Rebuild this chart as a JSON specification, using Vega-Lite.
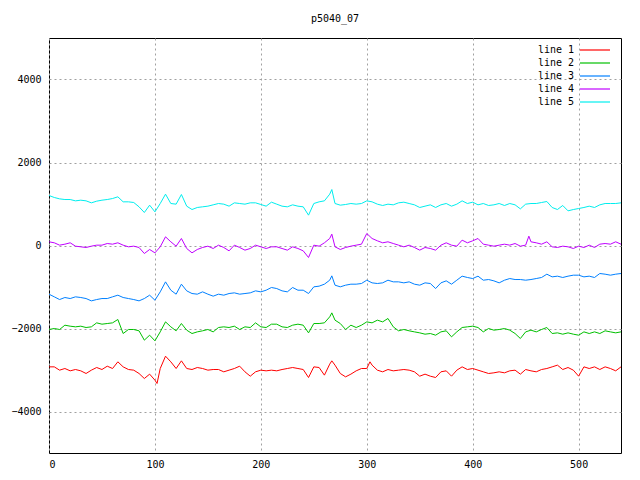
{
  "$schema": "https://vega.github.io/schema/vega-lite/v6.json",
  "width": 572,
  "height": 415,
  "autosize": {"type": "none"},
  "padding": {"left": 49, "top": 38, "right": 19, "bottom": 27},
  "background": "white",
  "config": {
    "view": {"stroke": "black", "strokeWidth": 1},
    "font": "DejaVu Sans Mono",
    "axis": {"labelFont": "DejaVu Sans Mono", "labelFontSize": 10, "labelColor": "black", "ticks": false, "domain": false, "grid": true, "gridDash": [2, 3], "gridColor": "#a0a0a0", "gridOpacity": 1, "title": null}
  },
  "title": {"text": "p5040_07", "fontSize": 10, "fontWeight": "normal", "font": "DejaVu Sans Mono", "offset": 14, "color": "black"},
  "data": {"values": [
    {"x":0,"a":-2924,"b":-2024,"c":-1173,"d":89,"e":1205},
    {"x":5,"a":-2924,"b":-2000,"c":-1237,"d":65,"e":1157},
    {"x":10,"a":-3004,"b":-2024,"c":-1302,"d":8,"e":1124},
    {"x":15,"a":-2964,"b":-1920,"c":-1253,"d":32,"e":1108},
    {"x":20,"a":-3020,"b":-1944,"c":-1278,"d":65,"e":1108},
    {"x":25,"a":-2988,"b":-1960,"c":-1237,"d":-16,"e":1076},
    {"x":30,"a":-3020,"b":-1944,"c":-1253,"d":-32,"e":1092},
    {"x":35,"a":-3084,"b":-1976,"c":-1278,"d":-48,"e":1076},
    {"x":40,"a":-3004,"b":-1960,"c":-1334,"d":-16,"e":1028},
    {"x":45,"a":-2940,"b":-1864,"c":-1302,"d":8,"e":1068},
    {"x":50,"a":-2988,"b":-1896,"c":-1278,"d":8,"e":1092},
    {"x":55,"a":-2908,"b":-1880,"c":-1278,"d":48,"e":1108},
    {"x":60,"a":-2964,"b":-1864,"c":-1237,"d":32,"e":1132},
    {"x":65,"a":-2803,"b":-1783,"c":-1197,"d":65,"e":1173},
    {"x":70,"a":-2924,"b":-2121,"c":-1253,"d":8,"e":1052},
    {"x":75,"a":-2988,"b":-2024,"c":-1278,"d":-32,"e":1052},
    {"x":80,"a":-3004,"b":-2024,"c":-1302,"d":-16,"e":1036},
    {"x":85,"a":-3084,"b":-2056,"c":-1334,"d":-48,"e":932},
    {"x":90,"a":-3205,"b":-2281,"c":-1278,"d":-193,"e":795},
    {"x":95,"a":-3100,"b":-2161,"c":-1197,"d":-96,"e":972},
    {"x":100,"a":-3245,"b":-2297,"c":-1318,"d":-177,"e":811},
    {"x":102,"a":-3325},
    {"x":105,"a":-2964,"b":-2081,"c":-1117,"d":-32,"e":1012},
    {"x":110,"a":-2667,"b":-1840,"c":-876,"d":209,"e":1237},
    {"x":115,"a":-2803,"b":-1960,"c":-1077,"d":89,"e":1012},
    {"x":120,"a":-2964,"b":-2056,"c":-1173,"d":-16,"e":996},
    {"x":125,"a":-2779,"b":-1880,"c":-932,"d":169,"e":1229},
    {"x":130,"a":-2964,"b":-2040,"c":-1093,"d":-72,"e":948},
    {"x":135,"a":-2988,"b":-2121,"c":-1157,"d":-177,"e":867},
    {"x":140,"a":-2940,"b":-2081,"c":-1173,"d":-96,"e":916},
    {"x":145,"a":-2964,"b":-2056,"c":-1117,"d":-48,"e":932},
    {"x":150,"a":-3004,"b":-2024,"c":-1173,"d":-16,"e":948},
    {"x":155,"a":-2988,"b":-2081,"c":-1221,"d":-72,"e":980},
    {"x":160,"a":-2988,"b":-1976,"c":-1173,"d":8,"e":1012},
    {"x":165,"a":-3044,"b":-1960,"c":-1197,"d":-48,"e":996},
    {"x":170,"a":-3004,"b":-1976,"c":-1157,"d":-129,"e":948},
    {"x":175,"a":-2964,"b":-1944,"c":-1141,"d":8,"e":1028},
    {"x":180,"a":-2908,"b":-2024,"c":-1173,"d":-48,"e":1012},
    {"x":185,"a":-3044,"b":-1960,"c":-1157,"d":-112,"e":996},
    {"x":190,"a":-3149,"b":-1976,"c":-1141,"d":-72,"e":1028},
    {"x":195,"a":-3044,"b":-1864,"c":-1093,"d":8,"e":1028},
    {"x":200,"a":-3004,"b":-1960,"c":-1117,"d":-32,"e":988},
    {"x":205,"a":-3020,"b":-1976,"c":-1077,"d":-72,"e":948},
    {"x":210,"a":-3004,"b":-1896,"c":-1012,"d":-32,"e":1044},
    {"x":215,"a":-3020,"b":-1896,"c":-1037,"d":-32,"e":996},
    {"x":220,"a":-2988,"b":-1960,"c":-1093,"d":-72,"e":948},
    {"x":225,"a":-2964,"b":-1976,"c":-1117,"d":-112,"e":932},
    {"x":230,"a":-2940,"b":-1920,"c":-1012,"d":-32,"e":980},
    {"x":235,"a":-2964,"b":-1896,"c":-1077,"d":-72,"e":948},
    {"x":240,"a":-2988,"b":-1920,"c":-1077,"d":-129,"e":932},
    {"x":245,"a":-3181,"b":-2105,"c":-1157,"d":-289,"e":731},
    {"x":250,"a":-2924,"b":-1880,"c":-996,"d":8,"e":1012},
    {"x":255,"a":-2940,"b":-1880,"c":-980,"d":-16,"e":1052},
    {"x":260,"a":-3124,"b":-1864,"c":-932,"d":65,"e":1076},
    {"x":265,"a":-2859,"b":-1719,"c":-836,"d":169,"e":1237},
    {"x":267,"a":-2779,"b":-1623,"c":-731,"d":273,"e":1349},
    {"x":270,"a":-2883,"b":-1799,"c":-956,"d":-32,"e":1012},
    {"x":275,"a":-3084,"b":-1880,"c":-996,"d":-96,"e":972},
    {"x":280,"a":-3165,"b":-2024,"c":-956,"d":-48,"e":988},
    {"x":285,"a":-3100,"b":-1920,"c":-932,"d":-16,"e":1012},
    {"x":290,"a":-3020,"b":-1976,"c":-932,"d":8,"e":996},
    {"x":295,"a":-2964,"b":-1920,"c":-916,"d":32,"e":1012},
    {"x":300,"a":-2964,"b":-1840,"c":-836,"d":289,"e":1076},
    {"x":303,"a":-2803},
    {"x":305,"a":-2883,"b":-1864,"c":-900,"d":169,"e":1052},
    {"x":310,"a":-3004,"b":-1799,"c":-916,"d":113,"e":996},
    {"x":315,"a":-3044,"b":-1840,"c":-900,"d":65,"e":964},
    {"x":320,"a":-2988,"b":-1759,"c":-836,"d":89,"e":996},
    {"x":325,"a":-3020,"b":-1960,"c":-876,"d":48,"e":980},
    {"x":330,"a":-3004,"b":-2056,"c":-876,"d":8,"e":1028},
    {"x":335,"a":-2988,"b":-2024,"c":-900,"d":-32,"e":1044},
    {"x":340,"a":-3004,"b":-2056,"c":-876,"d":8,"e":1012},
    {"x":345,"a":-3044,"b":-2081,"c":-932,"d":-48,"e":980},
    {"x":350,"a":-3149,"b":-2105,"c":-956,"d":-112,"e":916},
    {"x":355,"a":-3100,"b":-2137,"c":-900,"d":-48,"e":948},
    {"x":360,"a":-3149,"b":-2121,"c":-916,"d":-72,"e":980},
    {"x":365,"a":-3181,"b":-2161,"c":-1037,"d":-112,"e":916},
    {"x":370,"a":-3044,"b":-2081,"c":-900,"d":8,"e":980},
    {"x":375,"a":-3020,"b":-2056,"c":-852,"d":65,"e":1012},
    {"x":380,"a":-3149,"b":-2201,"c":-932,"d":8,"e":948},
    {"x":385,"a":-3004,"b":-2081,"c":-836,"d":-16,"e":996},
    {"x":390,"a":-2924,"b":-1976,"c":-739,"d":129,"e":1076},
    {"x":395,"a":-2988,"b":-1960,"c":-771,"d":65,"e":1012},
    {"x":400,"a":-2964,"b":-1944,"c":-796,"d":113,"e":1044},
    {"x":405,"a":-3004,"b":-1976,"c":-739,"d":169,"e":980},
    {"x":410,"a":-3044,"b":-2081,"c":-836,"d":32,"e":1012},
    {"x":415,"a":-3084,"b":-2000,"c":-820,"d":8,"e":964},
    {"x":420,"a":-3068,"b":-2040,"c":-852,"d":-16,"e":980},
    {"x":425,"a":-3044,"b":-2024,"c":-900,"d":8,"e":1012},
    {"x":430,"a":-3068,"b":-2000,"c":-836,"d":32,"e":964},
    {"x":435,"a":-3020,"b":-2040,"c":-796,"d":8,"e":1012},
    {"x":440,"a":-3004,"b":-2121,"c":-820,"d":48,"e":980},
    {"x":445,"a":-3100,"b":-2241,"c":-820,"d":-16,"e":883},
    {"x":450,"a":-2988,"b":-2081,"c":-836,"d":8,"e":996},
    {"x":453,"d":225},
    {"x":455,"a":-3020,"b":-2040,"c":-820,"d":89,"e":1012},
    {"x":460,"a":-3044,"b":-2081,"c":-796,"d":65,"e":1012},
    {"x":465,"a":-2988,"b":-2024,"c":-771,"d":32,"e":1036},
    {"x":470,"a":-2964,"b":-1976,"c":-691,"d":89,"e":1060},
    {"x":475,"a":-2924,"b":-2121,"c":-756,"d":-32,"e":916},
    {"x":480,"a":-2883,"b":-2105,"c":-739,"d":-48,"e":867},
    {"x":485,"a":-2988,"b":-2137,"c":-771,"d":-16,"e":964},
    {"x":490,"a":-2940,"b":-2105,"c":-739,"d":-32,"e":835},
    {"x":495,"a":-3004,"b":-2137,"c":-715,"d":-72,"e":867},
    {"x":500,"a":-3149,"b":-2161,"c":-715,"d":-16,"e":891},
    {"x":505,"a":-2924,"b":-2081,"c":-756,"d":-48,"e":916},
    {"x":510,"a":-2964,"b":-2121,"c":-739,"d":8,"e":948},
    {"x":515,"a":-2924,"b":-2081,"c":-771,"d":-48,"e":916},
    {"x":520,"a":-2988,"b":-2121,"c":-675,"d":32,"e":980},
    {"x":525,"a":-2924,"b":-2056,"c":-691,"d":48,"e":1012},
    {"x":530,"a":-2964,"b":-2081,"c":-715,"d":32,"e":1012},
    {"x":535,"a":-3020,"b":-2105,"c":-691,"d":89,"e":1012},
    {"x":540,"a":-2924,"b":-2081,"c":-675,"d":32,"e":1028}
  ]},
  "transform": [
    {"fold": ["a", "b", "c", "d", "e"], "as": ["s", "v"]},
    {"filter": "isValid(datum.v)"}
  ],
  "mark": {"type": "line", "strokeWidth": 1, "clip": true},
  "encoding": {
    "x": {"field": "x", "type": "quantitative", "scale": {"domain": [0, 540], "nice": false, "zero": false},
      "axis": {"values": [0, 100, 200, 300, 400, 500], "labelPadding": 6}},
    "y": {"field": "v", "type": "quantitative", "scale": {"domain": [-5000, 5000], "nice": false},
      "axis": {"values": [-4000, -2000, 0, 2000, 4000], "format": "d", "labelPadding": 8}},
    "color": {"field": "s", "type": "nominal",
      "scale": {"domain": ["a", "b", "c", "d", "e"], "range": ["#ff0000", "#00c000", "#0080ff", "#c000ff", "#00eeee"]},
      "legend": {"title": null, "orient": "none", "legendX": 540, "legendY": 6, "symbolType": "M-3,0H3", "symbolSize": 100, "symbolStrokeWidth": 1.2,
        "labelAlign": "right", "labelOffset": -27, "labelFontSize": 10, "labelFont": "DejaVu Sans Mono", "labelColor": "black", "rowPadding": 2,
        "labelExpr": "'line ' + (indexof(['a','b','c','d','e'], datum.label) + 1)"}}
  }
}
